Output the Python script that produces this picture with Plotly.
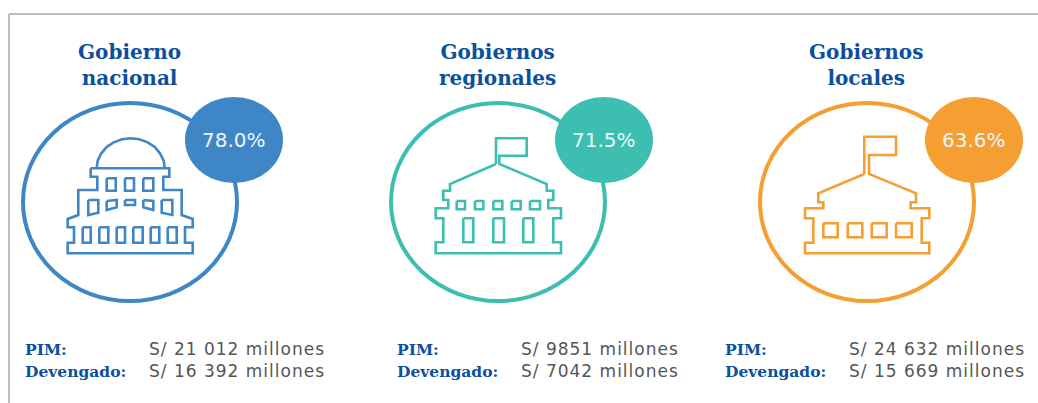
import plotly.graph_objects as go

# values
titulos = ['Gobierno<br>nacional', 'Gobiernos<br>regionales', 'Gobiernos<br>locales']
avance = ['78.0%', '71.5%', '63.6%']
pim = ['S/ 21 012 millones', 'S/ 9851 millones', 'S/ 24 632 millones']
devengado = ['S/ 16 392 millones', 'S/ 7042 millones', 'S/ 15 669 millones']

colores = ['#3f86c6', '#3cbfb0', '#f59e32']
AZUL = '#0b4f9e'
GRIS = '#555555'
centro_x = [130, 498, 867]
burbuja_x = [234, 604, 974]
titulo_x = [129, 497, 866]
etiqueta_x = [23, 395, 723]
valor_x = [156, 527, 856]  # includes the shift the letter spacing below causes
origen_x = [0, 370, 740]  # icon outlines were traced at 3x from these origins

edificio_1 = [
    [(272, 505), (508, 505), (508, 530), (490, 530), (490, 570), (545, 570), (545, 645), (578, 657),
     (578, 682), (555, 682), (555, 728), (578, 728), (578, 760), (203, 760), (203, 728), (222, 728),
     (222, 682), (203, 682), (203, 657), (235, 645), (235, 570), (292, 570), (292, 530), (272, 530), (272, 505)],
    [(290, 505), (293, 482), (304, 460), (320, 441), (341, 427), (366, 418), (392, 415), (418, 418),
     (443, 427), (464, 441), (480, 460), (491, 482), (494, 505)],
    [(320, 535), (347, 535), (347, 572), (320, 572), (320, 535)],
    [(375, 535), (402, 535), (402, 572), (375, 572), (375, 535)],
    [(430, 535), (460, 535), (460, 572), (430, 572), (430, 535)],
    [(265, 600), (295, 600), (295, 638), (265, 645), (265, 600)],
    [(320, 603), (350, 600), (350, 622), (320, 630), (320, 603)],
    [(375, 600), (405, 600), (405, 615), (375, 615), (375, 600)],
    [(430, 600), (460, 603), (460, 630), (430, 622), (430, 600)],
    [(485, 600), (517, 600), (517, 645), (485, 638), (485, 600)],
    [(248, 682), (272, 682), (272, 728), (248, 728), (248, 682)],
    [(298, 682), (325, 682), (325, 728), (298, 728), (298, 682)],
    [(350, 682), (375, 682), (375, 728), (350, 728), (350, 682)],
    [(400, 682), (428, 682), (428, 728), (400, 728), (400, 682)],
    [(452, 682), (478, 682), (478, 728), (452, 728), (452, 682)],
    [(503, 682), (530, 682), (530, 728), (503, 728), (503, 682)],
]
edificio_2 = [
    [(378, 492), (378, 415), (470, 415), (470, 467), (388, 467), (388, 492), (530, 552), (530, 572),
     (550, 572), (550, 600), (535, 600), (535, 625), (573, 625), (573, 655), (550, 655), (550, 727),
     (573, 727), (573, 760), (197, 760), (197, 727), (220, 727), (220, 655), (197, 655), (197, 625),
     (235, 625), (235, 600), (220, 600), (220, 572), (240, 572), (240, 552), (378, 492)],
    [(260, 603), (285, 603), (285, 628), (260, 628), (260, 603)],
    [(315, 603), (340, 603), (340, 628), (315, 628), (315, 603)],
    [(370, 603), (397, 603), (397, 628), (370, 628), (370, 603)],
    [(425, 603), (452, 603), (452, 628), (425, 628), (425, 603)],
    [(480, 603), (510, 603), (510, 628), (480, 628), (480, 603)],
    [(280, 655), (310, 655), (310, 727), (280, 727), (280, 655)],
    [(370, 655), (402, 655), (402, 727), (370, 727), (370, 655)],
    [(460, 655), (490, 655), (490, 727), (460, 727), (460, 655)],
]
edificio_3 = [
    [(373, 522), (373, 410), (468, 410), (468, 465), (387, 465), (387, 522), (528, 580), (528, 607),
     (512, 607), (512, 625), (568, 625), (568, 655), (545, 655), (545, 728), (568, 728), (568, 760),
     (195, 760), (195, 728), (220, 728), (220, 655), (195, 655), (195, 625), (250, 625), (250, 607),
     (235, 607), (235, 580), (373, 522)],
    [(250, 670), (293, 670), (293, 712), (250, 712), (250, 670)],
    [(323, 670), (367, 670), (367, 712), (323, 712), (323, 670)],
    [(395, 670), (440, 670), (440, 712), (395, 712), (395, 670)],
    [(468, 670), (515, 670), (515, 712), (468, 712), (468, 670)],
]
edificios = [edificio_1, edificio_2, edificio_3]

fig = go.Figure()
shapes = []
annotations = []


def texto(x, y, s, color, size, family, xanchor='left', bold=False):
    annotations.append(dict(
        x=x, y=y, text=f'<b>{s}</b>' if bold else s, showarrow=False, xanchor=xanchor, yanchor='middle',
        font=dict(color=color, size=size, family=family), xref='x', yref='y',
    ))


# frame top and left
shapes.append(dict(type='line', x0=9, x1=9, y0=14, y1=403, line=dict(color='#bdbdbd', width=2)))
shapes.append(dict(type='line', x0=9, x1=1038, y0=14, y1=14, line=dict(color='#bdbdbd', width=2)))

for i in range(3):
    c = colores[i]
    shapes.append(dict(type='circle', x0=centro_x[i] - 107, x1=centro_x[i] + 107, y0=103, y1=301,
                       line=dict(color=c, width=4), fillcolor='white'))
    shapes.append(dict(type='circle', x0=burbuja_x[i] - 49, x1=burbuja_x[i] + 49, y0=97, y1=183,
                       line=dict(width=0), fillcolor=c))
    for linea in edificios[i]:
        path = ' '.join(('M' if n == 0 else 'L') + f'{origen_x[i] + px / 3:.1f},{py / 3:.1f}'
                        for n, (px, py) in enumerate(linea))
        shapes.append(dict(type='path', path=path, line=dict(color=c, width=2.6)))

    texto(titulo_x[i], 64.5, titulos[i], AZUL, 20, 'DejaVu Serif', 'center', True)
    texto(burbuja_x[i], 140, avance[i], '#eef6fb', 20, 'DejaVu Sans', 'center')
    texto(etiqueta_x[i], 349, 'PIM:', AZUL, 15.5, 'DejaVu Serif', bold=True)
    texto(etiqueta_x[i], 371, 'Devengado:', AZUL, 15.5, 'DejaVu Serif', bold=True)
    texto(valor_x[i], 349, pim[i], GRIS, 17, 'DejaVu Sans')
    texto(valor_x[i], 371, devengado[i], GRIS, 17, 'DejaVu Sans')

fig.update_layout(
    width=1038, height=403, margin=dict(l=0, r=0, t=0, b=0),
    paper_bgcolor='white', plot_bgcolor='white', showlegend=False,
    xaxis=dict(range=[0, 1038], visible=False, fixedrange=True),
    yaxis=dict(range=[403, 0], visible=False, fixedrange=True),
    shapes=shapes, annotations=annotations,
)

# the amounts are set wider in the original than any installed font
ajuste = """document.body.style.margin='0';document.body.style.overflow='hidden';
document.querySelectorAll('.annotation-text').forEach(function(t){
  if (t.textContent.indexOf('millones') >= 0) { t.style.letterSpacing = '1px'; }
});"""
fig.write_html('out.html', post_script=ajuste, config=dict(displayModeBar=False))
